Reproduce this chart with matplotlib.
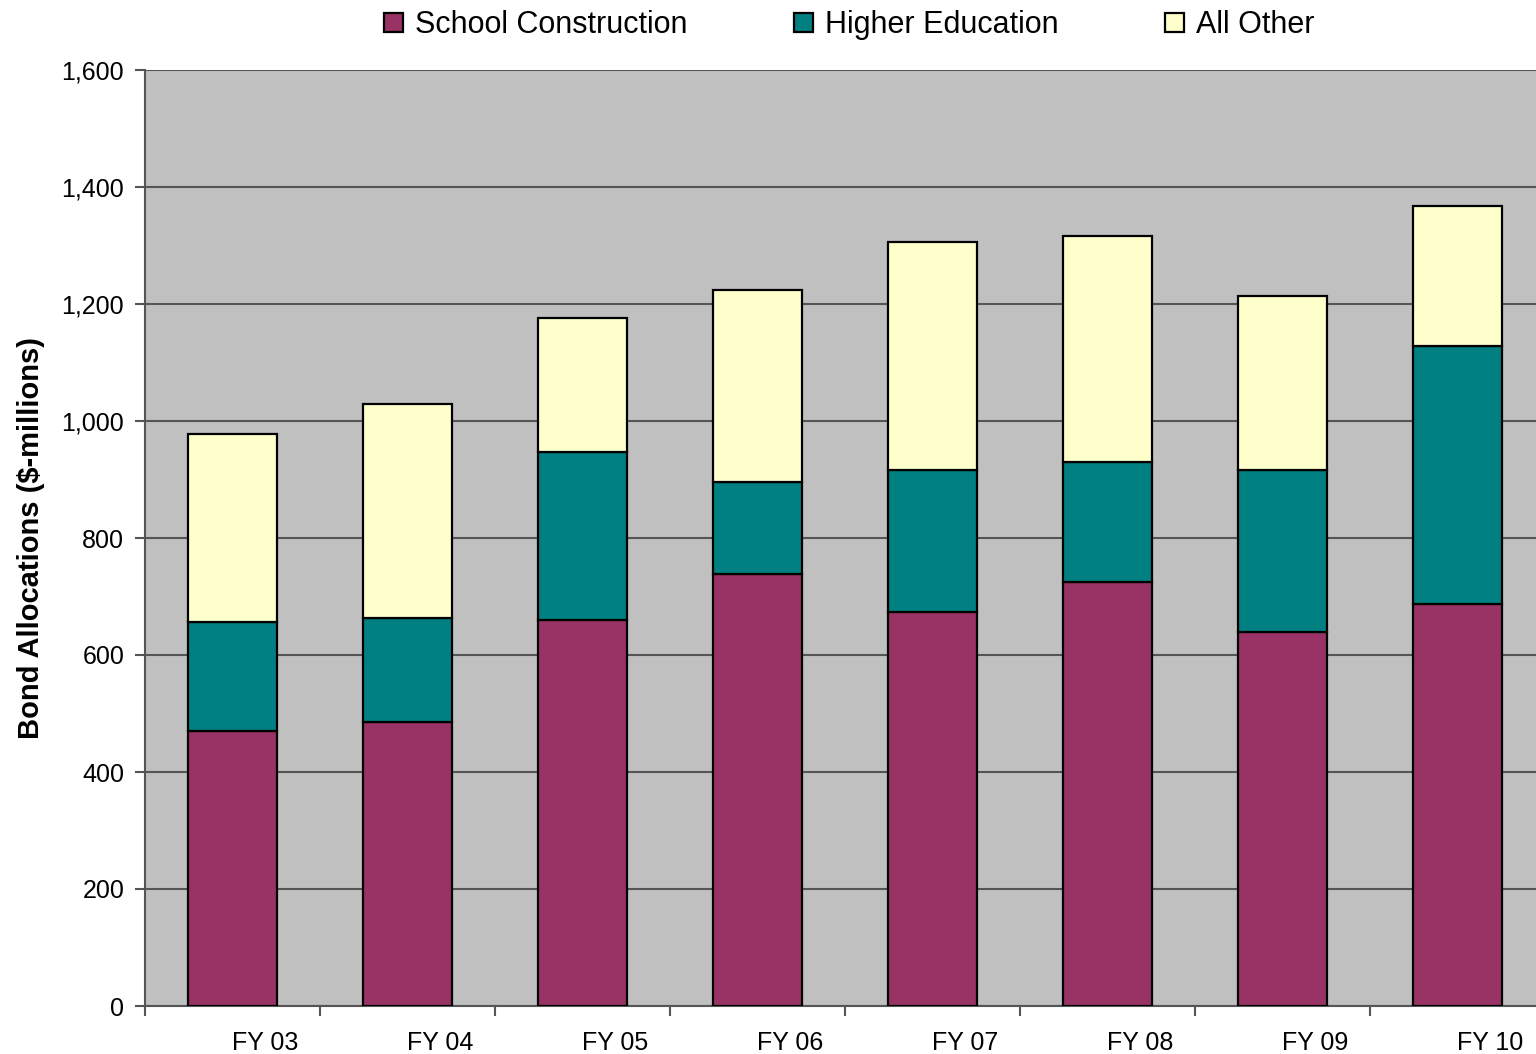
#!/usr/bin/env python3
"""Stacked bar chart of bond allocations by fiscal year."""

import matplotlib
matplotlib.use("Agg")
import matplotlib.pyplot as plt
import matplotlib.transforms as mtransforms
from matplotlib.ticker import FuncFormatter, FixedLocator
import numpy as np

plt.rcParams["font.family"] = ["Liberation Sans", "DejaVu Sans"]

YEARS = ["FY 03", "FY 04", "FY 05", "FY 06", "FY 07", "FY 08", "FY 09", "FY 10"]
SCHOOL = [470, 485, 660, 738, 673, 725, 639, 687]
HIGHER = [186, 178, 287, 158, 243, 205, 277, 441]
OTHER = [322, 366, 229, 328, 390, 386, 298, 240]

SERIES = ["School Construction", "Higher Education", "All Other"]
COLORS = ["#993366", "#008080", "#FFFFCC"]

fig = plt.figure(figsize=(15.36, 10.54), dpi=100)
ax = fig.add_axes([145 / 1536, 1 - 1006 / 1054, 1400 / 1536, 936 / 1054])
ax.set_facecolor("#C0C0C0")

x = np.arange(len(YEARS))
bottom = np.zeros(len(YEARS))
for name, vals, col in zip(SERIES, [SCHOOL, HIGHER, OTHER], COLORS):
    ax.bar(x, vals, width=0.503, bottom=bottom, color=col, edgecolor="black",
           linewidth=1.6, label=name, zorder=3)
    bottom += np.array(vals)

ax.set_xlim(-0.5, len(YEARS) - 0.5)
ax.set_ylim(0, 1600)
ax.set_yticks(np.arange(0, 1601, 200))
ax.yaxis.set_major_formatter(FuncFormatter(lambda v, p: f"{int(v):,}"))
ax.grid(axis="y", color="#555555", linewidth=1.5, zorder=1)

ax.xaxis.set_major_locator(FixedLocator(np.arange(-0.5, len(YEARS), 1.0)))
ax.set_xticklabels([])
ax.xaxis.set_minor_locator(FixedLocator(x))
ax.set_xticklabels(YEARS, minor=True, fontsize=18)
ax.tick_params(axis="x", which="minor", length=0, pad=18)
ax.tick_params(axis="x", which="major", length=7, width=1.5, color="#555555")
ax.tick_params(axis="y", length=7, width=1.5, color="#555555", labelsize=18, pad=8)
offset = mtransforms.ScaledTranslation(0.33, 0, fig.dpi_scale_trans)
for lbl in ax.get_xticklabels(minor=True):
    lbl.set_transform(lbl.get_transform() + offset)

for side in ["top", "right"]:
    ax.spines[side].set_visible(False)
for side in ["left", "bottom"]:
    ax.spines[side].set_color("#555555")
    ax.spines[side].set_linewidth(1.5)

ax.set_ylabel("Bond Allocations ($-millions)", fontsize=21, fontweight="bold", labelpad=12)

fig.legend(loc="center", bbox_to_anchor=(0.553, 0.976), ncol=3, frameon=False,
           fontsize=22, handlelength=0.6, handleheight=0.6, handletextpad=0.4,
           columnspacing=3.5)

fig.savefig("out.png", dpi=100)
